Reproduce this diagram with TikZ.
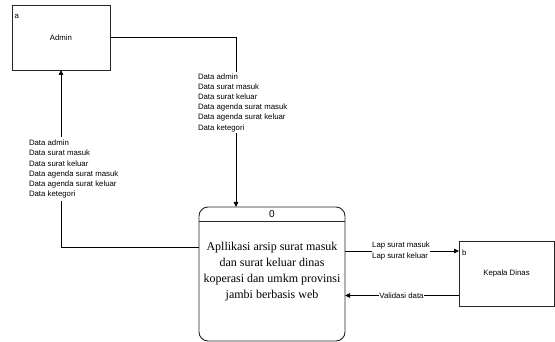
\documentclass[tikz,border=0pt]{standalone}
\usepackage{fontspec}
\setmainfont{Liberation Serif}
\setsansfont{Liberation Sans}
\usetikzlibrary{arrows.meta}
\begin{document}
\begin{tikzpicture}[x=1pt,y=-1pt,
  every node/.style={inner sep=0pt, outer sep=0pt},
  small/.style={font=\sffamily\fontsize{7.8}{10.2}\selectfont},
  entity/.style={draw=black!85, line width=0.9pt, small, align=center},
  procbox/.style={draw=black!85, line width=0.9pt, rounded corners=9pt},
  lbl/.style={small, fill=white, align=left, inner xsep=1pt, inner ysep=1pt},
  flow/.style={draw=black, line width=0.8pt},
  tip/.style={-{Triangle[length=5pt,width=4.5pt]}}
]
\useasboundingbox (0,0) rectangle (555,342);
% external entities
\node[entity, minimum width=98pt, minimum height=65pt] (admin) at (61,37.5) {Admin};
\node[small, anchor=west] (atag) at (14.5,16.5) {a};
\node[entity, minimum width=95pt, minimum height=65pt] (kd) at (506.5,273.5) {Kepala Dinas};
\node[small, anchor=west] (btag) at (462,253) {b};
% process
\node[procbox, minimum width=146pt, minimum height=134pt] (proc) at (272,274) {};
\coordinate (hl) at (0,221);
\draw[draw=black!85, line width=0.9pt] (proc.west |- hl) -- (proc.east |- hl);
\node[font=\sffamily\fontsize{10}{12}\selectfont] (pnum) at (272,214.5) {0};
\node[align=center, font=\fontsize{12}{16}\selectfont] (ptext) at (272,272) {Apllikasi arsip surat masuk\\dan surat keluar dinas\\koperasi dan umkm provinsi\\jambi berbasis web};
% flows
\coordinate (t1) at (236,37.5);
\draw[flow, tip] (admin.east) -- (t1) -- (t1 |- proc.north);
\node[lbl, anchor=north west] (tl) at (197,72.5) {Data admin\\Data surat masuk\\Data surat keluar\\Data agenda surat masuk\\Data agenda surat keluar\\Data ketegori};
\coordinate (l1) at (61,247);
\draw[flow, tip] (l1 -| proc.west) -- (l1) -- (admin.south);
\node[lbl, anchor=north west, inner ysep=3pt] (ll) at (28,137) {Data admin\\Data surat masuk\\Data surat keluar\\Data agenda surat masuk\\Data agenda surat keluar\\Data ketegori};
\coordinate (r1) at (0,251);
\draw[flow, tip] (r1 -| proc.east) -- (r1 -| kd.west);
\node[lbl, align=left, inner xsep=0.5pt, font=\sffamily\fontsize{7.8}{11}\selectfont] (lap) at (401,251) {Lap surat masuk\\Lap surat keluar};
\coordinate (r2) at (0,295.5);
\draw[flow, tip] (r2 -| kd.west) -- (r2 -| proc.east);
\node[lbl, inner xsep=0.5pt] (val) at (401.5,295.5) {Validasi data};
\end{tikzpicture}
\end{document}
